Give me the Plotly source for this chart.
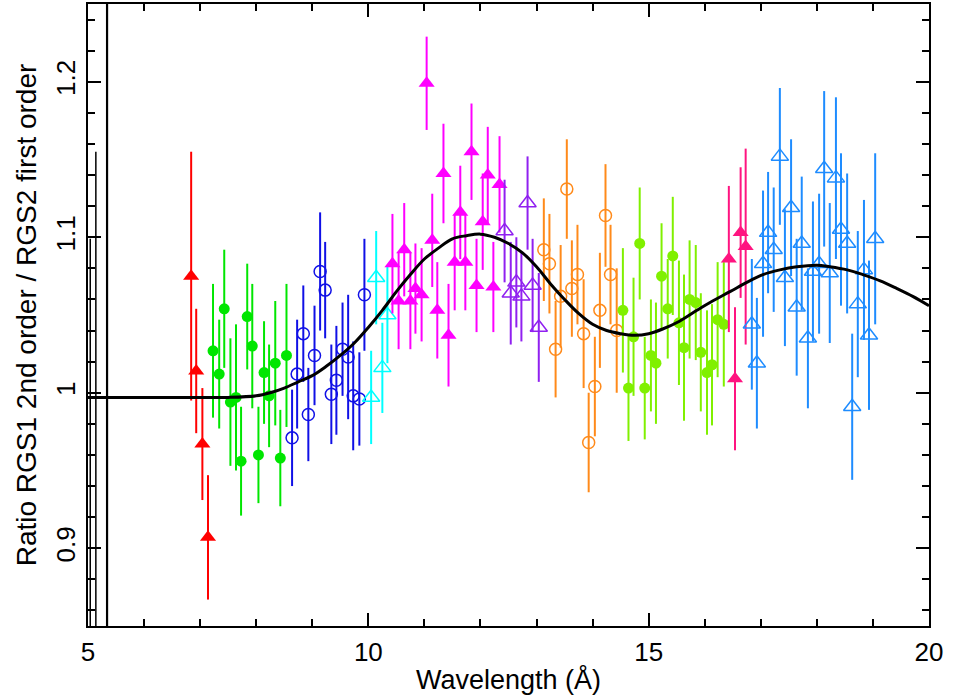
import plotly.graph_objects as go

# ---------------- data ----------------
red_lam = [6.84, 6.93, 7.04, 7.14]
red_ratio = [1.075, 1.014, 0.967, 0.907]
red_err = [0.080, 0.040, 0.036, 0.040]

green_lam = [7.23, 7.34, 7.43, 7.54, 7.64, 7.73, 7.84, 7.93, 8.04, 8.14, 8.23, 8.34, 8.43, 8.54]
green_ratio = [1.027, 1.012, 1.054, 0.994, 0.997, 0.956, 1.049, 1.030, 0.960, 1.013, 0.998, 1.019, 0.958, 1.024]
green_err = [0.043, 0.035, 0.038, 0.041, 0.047, 0.035, 0.034, 0.040, 0.031, 0.033, 0.033, 0.040, 0.031, 0.046]

blue_lam = [8.64, 8.73, 8.84, 8.93, 9.04, 9.14, 9.23, 9.34, 9.43, 9.54, 9.64, 9.73, 9.84, 9.93]
blue_ratio = [0.971, 1.012, 1.038, 0.986, 1.024, 1.078, 1.066, 0.999, 1.008, 1.028, 1.023, 0.998, 0.996, 1.063]
blue_err = [0.031, 0.035, 0.031, 0.030, 0.032, 0.038, 0.031, 0.032, 0.035, 0.030, 0.040, 0.035, 0.030, 0.036]

cyan_lam = [10.05, 10.14, 10.25, 10.34]
cyan_ratio = [0.997, 1.074, 1.016, 1.050]
cyan_err = [0.030, 0.030, 0.029, 0.031]

magenta_lam = [10.43, 10.54, 10.64, 10.75, 10.84, 10.95, 11.04, 11.14, 11.23, 11.34,
               11.43, 11.54, 11.64, 11.73, 11.84, 11.93, 12.04, 12.13, 12.23, 12.34]
magenta_ratio = [1.083, 1.059, 1.092, 1.059, 1.067, 1.063, 1.199, 1.098, 1.053, 1.141,
                 1.037, 1.084, 1.116, 1.084, 1.155, 1.069, 1.110, 1.140, 1.068, 1.134]
magenta_err = [0.032, 0.031, 0.030, 0.031, 0.029, 0.030, 0.030, 0.030, 0.031, 0.032,
               0.033, 0.031, 0.030, 0.031, 0.031, 0.030, 0.031, 0.031, 0.029, 0.031]

purple_lam = [12.43, 12.54, 12.64, 12.73, 12.84, 12.93, 13.04]
purple_ratio = [1.104, 1.064, 1.071, 1.062, 1.122, 1.069, 1.042]
purple_err = [0.033, 0.033, 0.029, 0.029, 0.030, 0.030, 0.035]

orange_lam = [13.13, 13.23, 13.34, 13.43, 13.54, 13.63, 13.73, 13.84, 13.93, 14.04, 14.13, 14.23, 14.32, 14.43]
orange_ratio = [1.092, 1.083, 1.028, 1.062, 1.131, 1.067, 1.076, 1.038, 0.968, 1.004, 1.053, 1.114, 1.076, 1.040]
orange_err = [0.033, 0.032, 0.031, 0.033, 0.032, 0.031, 0.032, 0.035, 0.032, 0.032, 0.037, 0.033, 0.032, 0.040]

lime_lam = [14.54, 14.64, 14.73, 14.84, 14.93, 15.04, 15.13, 15.23, 15.34, 15.43,
            15.54, 15.63, 15.73, 15.84, 15.93, 16.04, 16.13, 16.23, 16.34]
lime_ratio = [1.053, 1.003, 1.036, 1.096, 1.003, 1.024, 1.019, 1.075, 1.054, 1.088,
              1.045, 1.029, 1.060, 1.058, 1.026, 1.013, 1.018, 1.047, 1.044]
lime_err = [0.040, 0.034, 0.038, 0.036, 0.033, 0.036, 0.039, 0.034, 0.032, 0.038,
            0.040, 0.047, 0.038, 0.037, 0.038, 0.040, 0.039, 0.037, 0.040]

pink_lam = [16.43, 16.54, 16.64, 16.73]
pink_ratio = [1.086, 1.009, 1.103, 1.094]
pink_err = [0.047, 0.046, 0.042, 0.063]

azure_lam = [16.84, 16.93, 17.04, 17.13, 17.23, 17.34, 17.43, 17.54, 17.64, 17.73, 17.84, 17.93,
             18.04, 18.13, 18.23, 18.34, 18.43, 18.54, 18.63, 18.73, 18.84, 18.93, 19.04]
azure_ratio = [1.044, 1.019, 1.083, 1.103, 1.092, 1.152, 1.074, 1.119, 1.055, 1.096, 1.035, 1.078,
               1.083, 1.144, 1.077, 1.138, 1.105, 1.096, 0.991, 1.057, 1.079, 1.037, 1.099]
azure_err = [0.042, 0.042, 0.047, 0.039, 0.040, 0.044, 0.044, 0.044, 0.044, 0.043, 0.045, 0.045,
             0.045, 0.050, 0.045, 0.052, 0.049, 0.045, 0.047, 0.047, 0.045, 0.048, 0.055]

# off-scale error bars near 5 Angstrom (black)
black_lam = [5.04, 5.14, 5.34]
black_lo = [0.80, 0.80, 0.80]
black_hi = [1.099, 1.155, 1.30]
black_width = [1.5, 1.5, 2.2]

# model curve
curve_lam = [5.0, 6.0, 7.0, 7.5, 8.0, 8.25, 8.5, 8.75, 9.0, 9.25, 9.5, 9.75, 10.0, 10.25, 10.5,
             10.75, 11.0, 11.25, 11.5, 11.75, 12.0, 12.25, 12.5, 12.75, 13.0, 13.25, 13.5,
             13.75, 14.0, 14.25, 14.5, 14.75, 15.0, 15.25, 15.55, 15.86, 16.14, 16.45,
             16.75, 17.04, 17.34, 17.64, 18.0, 18.23, 18.54, 18.82, 19.13, 19.43, 19.71, 20.0]
curve_ratio = [0.997, 0.997, 0.997, 0.997, 0.998, 1.000, 1.003, 1.007, 1.011, 1.017, 1.024, 1.032,
               1.042, 1.053, 1.065, 1.076, 1.086, 1.093, 1.099, 1.101, 1.102, 1.100, 1.096,
               1.090, 1.081, 1.070, 1.060, 1.051, 1.044, 1.040, 1.038, 1.037, 1.038, 1.041,
               1.046, 1.053, 1.059, 1.065, 1.071, 1.076, 1.079, 1.081, 1.082, 1.081, 1.079,
               1.076, 1.072, 1.067, 1.062, 1.056]

series = [
    (red_lam, red_ratio, red_err, "#ff0000", "triangle-up", 14, 0),
    (green_lam, green_ratio, green_err, "#00e600", "circle", 11, 0),
    (blue_lam, blue_ratio, blue_err, "#1010e6", "circle-open", 12, 1.5),
    (cyan_lam, cyan_ratio, cyan_err, "#00ffff", "triangle-up-open", 15, 1.5),
    (magenta_lam, magenta_ratio, magenta_err, "#ff00ff", "triangle-up", 14, 0),
    (purple_lam, purple_ratio, purple_err, "#9020f0", "triangle-up-open", 15, 1.5),
    (orange_lam, orange_ratio, orange_err, "#ff8a1a", "circle-open", 12, 1.5),
    (lime_lam, lime_ratio, lime_err, "#80f000", "circle", 11, 0),
    (pink_lam, pink_ratio, pink_err, "#ff1480", "triangle-up", 14, 0),
    (azure_lam, azure_ratio, azure_err, "#1e8cff", "triangle-up-open", 15, 1.5),
]

fig = go.Figure()

for lam, lo, hi, w in zip(black_lam, black_lo, black_hi, black_width):
    fig.add_trace(go.Scatter(x=[lam, lam], y=[lo, hi], mode="lines",
                             line=dict(color="black", width=w), hoverinfo="skip"))

for lam, ratio, err, col, sym, size, lw in series:
    marker = dict(color=col, symbol=sym, size=size)
    if lw:
        marker["line"] = dict(color=col, width=lw)
    fig.add_trace(go.Scatter(
        x=lam, y=ratio, mode="markers", marker=marker,
        error_y=dict(type="data", array=err, visible=True, width=0, thickness=2, color=col),
    ))

fig.add_trace(go.Scatter(x=curve_lam, y=curve_ratio, mode="lines",
                         line=dict(color="black", width=3, shape="spline", smoothing=1.0)))

FONT = "Liberation Sans, Arial, sans-serif"

fig.update_layout(
    width=961, height=696,
    margin=dict(l=88, r=32, t=2, b=70),
    plot_bgcolor="white", paper_bgcolor="white",
    showlegend=False,
    font=dict(family=FONT, size=24, color="black"),
)
fig.update_xaxes(
    range=[5, 20], tick0=5, dtick=5,
    showline=True, linecolor="black", linewidth=2, mirror="allticks",
    ticks="inside", ticklen=13, tickwidth=1.5, tickcolor="black",
    minor=dict(dtick=1, ticks="inside", ticklen=7, tickwidth=1.5, tickcolor="black"),
    showgrid=False, zeroline=False,
    tickfont=dict(size=26), ticklabelstandoff=2,
    title=dict(text="Wavelength (Å)", font=dict(size=27), standoff=4),
)
fig.update_yaxes(
    range=[0.85, 1.25], tick0=0.9, dtick=0.1,
    showline=True, linecolor="black", linewidth=2, mirror="allticks",
    ticks="inside", ticklen=13, tickwidth=1.5, tickcolor="black",
    minor=dict(dtick=0.02, ticks="inside", ticklen=7, tickwidth=1.5, tickcolor="black"),
    showgrid=False, zeroline=False,
    tickangle=-90, tickfont=dict(size=26), ticklabelstandoff=1,
    title=dict(text="Ratio RGS1 2nd order / RGS2 first order", font=dict(size=28), standoff=6),
)

fig.write_html("out.html", config={"displayModeBar": False},
               post_script="document.body.style.margin='0';")
